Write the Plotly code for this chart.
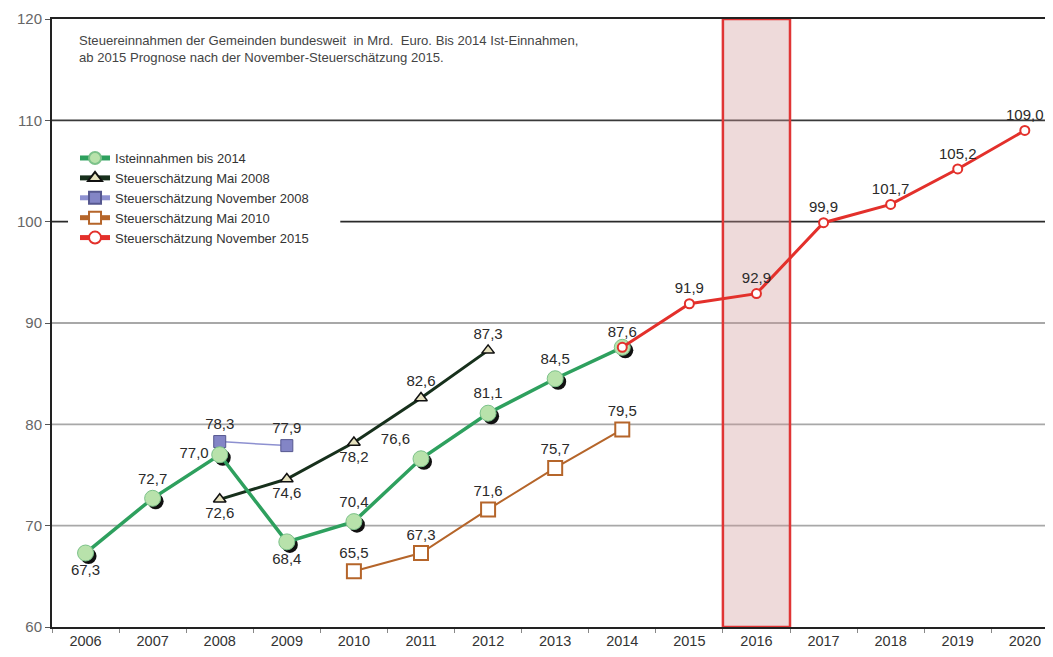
import plotly.graph_objects as go

# --- Daten (Mrd. Euro) ---
years = [str(y) for y in range(2006, 2021)]

ist_years = ["2006", "2007", "2008", "2009", "2010", "2011", "2012", "2013", "2014"]
ist_vals = [67.3, 72.7, 77.0, 68.4, 70.4, 76.6, 81.1, 84.5, 87.6]

mai08_years = ["2008", "2009", "2010", "2011", "2012"]
mai08_vals = [72.6, 74.6, 78.2, 82.6, 87.3]

nov08_years = ["2008", "2009"]
nov08_vals = [78.3, 77.9]

mai10_years = ["2010", "2011", "2012", "2013", "2014"]
mai10_vals = [65.5, 67.3, 71.6, 75.7, 79.5]

nov15_years = ["2014", "2015", "2016", "2017", "2018", "2019", "2020"]
nov15_vals = [87.6, 91.9, 92.9, 99.9, 101.7, 105.2, 109.0]

highlight_year = "2016"

grid_levels = [70, 80, 90, 100, 110]
grid_colors = ["#a8a8a8", "#a8a8a8", "#a8a8a8", "#2a2a2a", "#3a3a3a"]

# --- Stil ---
FONT = "Liberation Sans"
LABEL = dict(family=FONT, size=15, color="#2a2a2a")


def de(v):
    return f"{v:.1f}".replace(".", ",")


ist_pos = ["bottom center", "top center", "middle left", "bottom center", "top center",
           "top left", "top center", "top center", "top center"]
mai08_pos = ["bottom center", "bottom center", "bottom center", "top center", "top center"]

fig = go.Figure()

# Mai 2010 (braun)
fig.add_trace(go.Scatter(
    x=mai10_years, y=mai10_vals, name="Steuerschätzung Mai 2010",
    mode="lines+markers+text", text=[de(v) for v in mai10_vals], textposition="top center",
    textfont=LABEL, line=dict(color="#b5652a", width=2),
    marker=dict(symbol="square", size=14, color="white", line=dict(color="#b5652a", width=2)),
    legendrank=4, cliponaxis=False,
))

# Mai 2008 (schwarz/dunkelgrün)
fig.add_trace(go.Scatter(
    x=mai08_years, y=mai08_vals, name="Steuerschätzung Mai 2008",
    mode="lines+markers+text", text=[de(v) for v in mai08_vals], textposition=mai08_pos,
    textfont=LABEL, line=dict(color="#17301c", width=3),
    marker=dict(symbol="triangle-up", size=11, color="#e6e2bf", line=dict(color="#111", width=1.5)),
    legendrank=2, cliponaxis=False,
))

# November 2008 (lila)
fig.add_trace(go.Scatter(
    x=nov08_years, y=nov08_vals, name="Steuerschätzung November 2008",
    mode="lines+markers+text", text=[de(v) for v in nov08_vals], textposition="top center",
    textfont=LABEL, line=dict(color="#8d90d0", width=1.5),
    marker=dict(symbol="square", size=12, color="#8385c6", line=dict(color="#55578f", width=1)),
    legendrank=3, cliponaxis=False,
))

# Schatten der Ist-Punkte (versetzte Achsen)
fig.add_trace(go.Scatter(
    x=ist_years, y=ist_vals, mode="markers", showlegend=False, hoverinfo="skip",
    marker=dict(size=16, color="#111"), xaxis="x2", yaxis="y2",
))

# Isteinnahmen (grün)
fig.add_trace(go.Scatter(
    x=ist_years, y=ist_vals, name="Isteinnahmen bis 2014",
    mode="lines+markers+text", text=[de(v) for v in ist_vals[:-1]] + [""], textposition=ist_pos,
    textfont=LABEL, line=dict(color="#2ea05e", width=3.5),
    marker=dict(size=16, color="#b8e2ab", line=dict(color="#7cc28a", width=1)),
    legendrank=1, cliponaxis=False, xaxis="x3", yaxis="y3",
))

# November 2015 (rot)
fig.add_trace(go.Scatter(
    x=nov15_years, y=nov15_vals, name="Steuerschätzung November 2015",
    mode="lines+markers+text", text=[de(v) for v in nov15_vals], textposition="top center",
    textfont=LABEL, line=dict(color="#e3302b", width=3),
    marker=dict(size=9, color="white", line=dict(color="#e3302b", width=2)),
    legendrank=5, cliponaxis=False, xaxis="x3", yaxis="y3",
))

# Hervorhebung 2016
hi = years.index(highlight_year)
fig.add_shape(type="rect", xref="x", yref="y", x0=hi - 0.5, x1=hi + 0.5, y0=60, y1=120,
              fillcolor="rgba(205,150,150,0.35)", line=dict(color="#e03535", width=2.5),
              layer="below")

# Gitterlinien (100 / 110 dunkel)
for lvl, col in zip(grid_levels, grid_colors):
    fig.add_shape(type="line", xref="paper", yref="y", x0=0, x1=1, y0=lvl, y1=lvl,
                  line=dict(color=col, width=1.8), layer="between")

# weißer Kasten hinter der Legende
fig.add_shape(type="rect", xref="paper", yref="paper", x0=0.016, x1=0.288, y0=0.62, y1=0.80,
              fillcolor="white", line=dict(width=0), layer="above")

fig.add_annotation(
    xref="paper", yref="paper", x=0.025, y=0.98, xanchor="left", yanchor="top",
    align="left", showarrow=False,
    text="Steuereinnahmen der Gemeinden bundesweit  in Mrd.  Euro. Bis 2014 Ist-Einnahmen,"
         "<br>ab 2015 Prognose nach der November-Steuerschätzung 2015.",
    font=dict(family=FONT, size=13.1, color="#444"),
)

xr = [-0.5, 14.42]
yr = [60, 120]
dx, dy = 0.045, 0.3  # Schattenversatz

common_x = dict(type="category", categoryorder="array", categoryarray=years)

# Seite hat 8px Rand -> Figur entsprechend kleiner
fig.update_layout(
    width=1045, height=649,
    margin=dict(l=44, r=0, t=11, b=30, autoexpand=False),
    paper_bgcolor="white", plot_bgcolor="white",
    font=dict(family=FONT, color="#333"),
    showlegend=True,
    legend=dict(
        x=0.023, y=0.796, xanchor="left", yanchor="top",
        bgcolor="rgba(0,0,0,0)", font=dict(family=FONT, size=13, color="#333"),
        tracegroupgap=0, itemwidth=30, itemsizing="constant",
    ),
    xaxis=dict(
        **common_x, range=xr, showgrid=False, showline=True, linecolor="#222", linewidth=2,
        mirror=True, ticks="outside", tickson="boundaries", ticklen=4, tickcolor="#888",
        tickfont=dict(family=FONT, size=14.5, color="#333"), automargin=False,
    ),
    yaxis=dict(
        range=yr, dtick=10, showgrid=False,
        showline=True, linecolor="#222", linewidth=2, ticks="outside", ticklen=5,
        tickcolor="#555", zeroline=False, automargin=False,
        tickfont=dict(family=FONT, size=15, color="#666"),
    ),
    xaxis2=dict(**common_x, range=[xr[0] - dx, xr[1] - dx], overlaying="x", visible=False),
    yaxis2=dict(range=[yr[0] + dy, yr[1] + dy], overlaying="y", visible=False),
    xaxis3=dict(**common_x, range=xr, overlaying="x", visible=False),
    yaxis3=dict(range=yr, overlaying="y", visible=False),
)

fig.write_html("out.html")
